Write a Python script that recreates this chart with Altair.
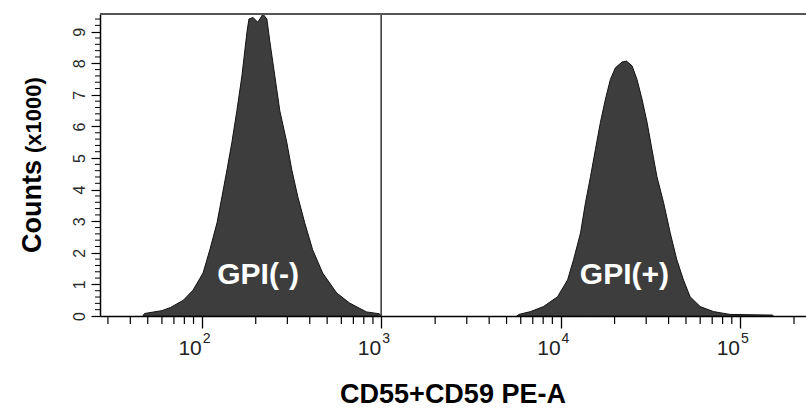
import altair as alt
import pandas as pd

# ---- data (counts in thousands) ----
p1_x = [47, 48, 60, 67, 79, 89.5, 101.7, 111, 121.7, 129.7, 138.3, 147.3, 157, 167.5,
        178.6, 183.3, 192.8, 205.6, 219.3, 230.7, 239.5, 255.4, 272.3, 297.8, 317.5,
        343, 375, 415, 472, 565, 667, 828, 977, 1000]
p1_c = [0, 0.08, 0.17, 0.27, 0.5, 0.82, 1.36, 2.1, 2.95, 3.78, 4.63, 5.5, 6.5, 7.6,
        8.98, 9.4, 9.45, 9.3, 9.56, 9.4, 8.7, 7.6, 6.5, 5.5, 4.63,
        3.78, 2.95, 2.1, 1.36, 0.73, 0.41, 0.13, 0.07, 0]

p2_x = [5700, 5860, 6810, 8040, 9620, 10940, 11810, 12920, 13770, 14680, 15640, 16680,
        17780, 18950, 20220, 22030, 23270, 25020, 26670, 28450, 30340, 32310, 34440,
        37500, 40840, 44460, 48420, 52720, 59950, 71120, 87990, 152000, 153000]
p2_c = [0, 0.05, 0.14, 0.3, 0.61, 1.14, 1.78, 2.63, 3.59, 4.41, 5.27, 6.13,
        6.86, 7.49, 7.86, 8.04, 8.07, 7.92, 7.49, 6.86, 6.13, 5.27, 4.41,
        3.59, 2.63, 1.78, 1.14, 0.61, 0.3, 0.14, 0.05, 0.03, 0]

major_ticks = [100, 1000, 10000, 100000]
major_base = ["10", "10", "10", "10"]
major_exp = ["2", "3", "4", "5"]
minor_ticks = [30, 40, 50, 60, 70, 80, 90,
               200, 300, 400, 500, 600, 700, 800, 900,
               2000, 3000, 4000, 5000, 6000, 7000, 8000, 9000,
               20000, 30000, 40000, 50000, 60000, 70000, 80000, 90000,
               200000]
y_ticks = [0, 1, 2, 3, 4, 5, 6, 7, 8, 9]
y_minor = [0.2, 0.4, 0.6, 0.8, 1.2, 1.4, 1.6, 1.8, 2.2, 2.4, 2.6, 2.8,
           3.2, 3.4, 3.6, 3.8, 4.2, 4.4, 4.6, 4.8, 5.2, 5.4, 5.6, 5.8,
           6.2, 6.4, 6.6, 6.8, 7.2, 7.4, 7.6, 7.8, 8.2, 8.4, 8.6, 8.8,
           9.2, 9.4]
gate_x = [1000]
gpi_labels = ["GPI(-)", "GPI(+)"]
gpi_x = [206, 22700]
gpi_y = [1.0, 1.0]

# ---- tables (shared field names x / y so layers merge one axis each) ----
hist = pd.DataFrame({
    "x": p1_x + p2_x,
    "y": p1_c + p2_c,
    "peak": ["neg"] * len(p1_x) + ["pos"] * len(p2_x),
})
majors = pd.DataFrame({"x": major_ticks, "base": major_base, "exp": major_exp})
minors = pd.DataFrame({"x": minor_ticks})
yminors = pd.DataFrame({"y": y_minor})
gates = pd.DataFrame({"x": gate_x})
gpi = pd.DataFrame({"label": gpi_labels, "x": gpi_x, "y": gpi_y})
one = pd.DataFrame({"a": [0]})

W, H = 706, 302
FONT = "Liberation Sans, Arial, sans-serif"
NARROW = "Liberation Sans Narrow, Liberation Sans, Arial, sans-serif"

xscale = alt.Scale(type="log", domain=[27.1, 233300], nice=False)
yscale = alt.Scale(domain=[0, 9.56], nice=False, zero=True)

xaxis = alt.Axis(values=major_ticks, tickSize=12, labels=False, grid=False,
                 domainColor="black", domainWidth=1.5, tickColor="black", tickWidth=1.3,
                 title="CD55+CD59 PE-A", titleFont=FONT, titleFontSize=27,
                 titleFontWeight="bold", titleColor="black",
                 titleBaseline="alphabetic", titleY=86, titleX=W / 2 - 0.5)
yaxis = alt.Axis(values=y_ticks, tickSize=9, grid=False, title="",
                 labelAngle=270, labelAlign="center", labelBaseline="alphabetic",
                 labelPadding=7, labelFontSize=16, labelFont=FONT,
                 labelColor="#2a2a2a", labelFlush=False, labelOverlap=False,
                 domainColor="black", domainWidth=1.5, tickColor="black", tickWidth=1.2)


def X():
    return alt.X("x:Q", scale=xscale, axis=xaxis, title="CD55+CD59 PE-A")


def Y():
    return alt.Y("y:Q", scale=yscale, axis=yaxis, title="")


area = alt.Chart(hist).mark_area(
    color="#3d3d3d", stroke="#111", strokeWidth=1, interpolate="linear", clip=True
).encode(
    x=X(),
    y=alt.Y("y:Q", scale=yscale, axis=yaxis, title="", stack=None),
    detail="peak:N",
)

xminor = alt.Chart(minors).mark_rule(color="black", strokeWidth=1.2).encode(
    x=X(), y=alt.value(H), y2=alt.value(H + 8),
)

yminor = alt.Chart(yminors).mark_rule(color="black", strokeWidth=1).encode(
    y=Y(), x=alt.value(-5), x2=alt.value(0),
)

gate = alt.Chart(gates).mark_rule(color="#333", strokeWidth=1.5).encode(x=X())

top = alt.Chart(one).mark_rule(color="#555", strokeWidth=2).encode(
    x=alt.value(0), x2=alt.value(W), y=alt.value(0),
)

gpi_text = alt.Chart(gpi).mark_text(
    font=FONT, fontWeight="bold", fontSize=30, color="white",
    align="center", baseline="alphabetic",
).encode(x=X(), y=Y(), text="label:N")

base_text = alt.Chart(majors).mark_text(
    font=NARROW, fontSize=21, color="#222", align="right", baseline="alphabetic",
).encode(x=X(), y=alt.value(H + 39), text="base:N")
exp_text = alt.Chart(majors).mark_text(
    font=NARROW, fontSize=14, color="#222", align="left", baseline="alphabetic", dx=1,
).encode(x=X(), y=alt.value(H + 27), text="exp:N")

counts_title = alt.Chart(one).mark_text(
    font=FONT, fontWeight="bold", fontSize=27, color="black", angle=270,
    align="left", baseline="alphabetic",
).encode(x=alt.value(-59.3), y=alt.value(239), text=alt.value("Counts"))
unit_title = alt.Chart(one).mark_text(
    font=FONT, fontWeight="bold", fontSize=22, color="black", angle=270,
    align="left", baseline="alphabetic",
).encode(x=alt.value(-59.3), y=alt.value(139), text=alt.value("(x1000)"))

chart = alt.layer(
    area, xminor, yminor, gate, top, gpi_text, base_text, exp_text,
    counts_title, unit_title,
).properties(
    width=W, height=H,
    autosize=alt.AutoSizeParams(type="none"),
    padding={"left": 100, "top": 14, "right": 0, "bottom": 92},
).configure_view(stroke=None).configure(background="white")

chart.save("out.html", embed_options={"renderer": "svg", "actions": False})
